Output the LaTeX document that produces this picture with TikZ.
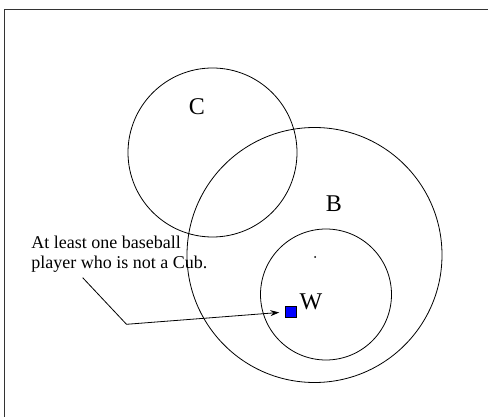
\documentclass[tikz,border=0pt]{standalone}
\usepackage{fontspec}
\setmainfont{Liberation Serif}
\usetikzlibrary{arrows,arrows.meta,positioning}

\begin{document}
\begin{tikzpicture}[x=1pt,y=-1pt,>=stealth',line width=.8pt,
  set node/.style={circle,draw,inner sep=0pt},
  name node/.style={font=\fontsize{24}{26}\selectfont,inner sep=0pt}]

  \useasboundingbox (0,0) rectangle (488,417);
  \draw[line width=1.4pt,black!80] (4.5,417) -- (4.5,9.8) -- (488,9.8);

  \node[set node,minimum size=169pt] (c) at (212.5,152.5) {};
  \node[set node,minimum size=255pt] (b) at (314.5,255) {};
  \node[set node,minimum size=131pt] (w) at (326,294.5) {};
  \fill (315,257) circle (1pt);

  \node[name node] (cl) at (197,107) {C};
  \node[name node] (bl) at (334,204) {B};
  \node[name node] (wl) at (311,302) {W};

  \node[draw=black,fill=blue,line width=.9pt,minimum size=10.5pt,inner sep=0pt] (wsq) at (291,312) {};

  \node[font=\fontsize{18}{20}\selectfont,align=left,anchor=north west,inner sep=0pt] (note) at (31,236)
    {At least one baseball\\player who is not a Cub.};

  \coordinate (start) at (82.7,277.7);
  \coordinate (bend) at (126.5,324.3);
  \draw[-{Stealth[length=9pt,width=6pt]},shorten >=6pt] (start) -- (bend) -- (wsq.west);
\end{tikzpicture}
\end{document}
